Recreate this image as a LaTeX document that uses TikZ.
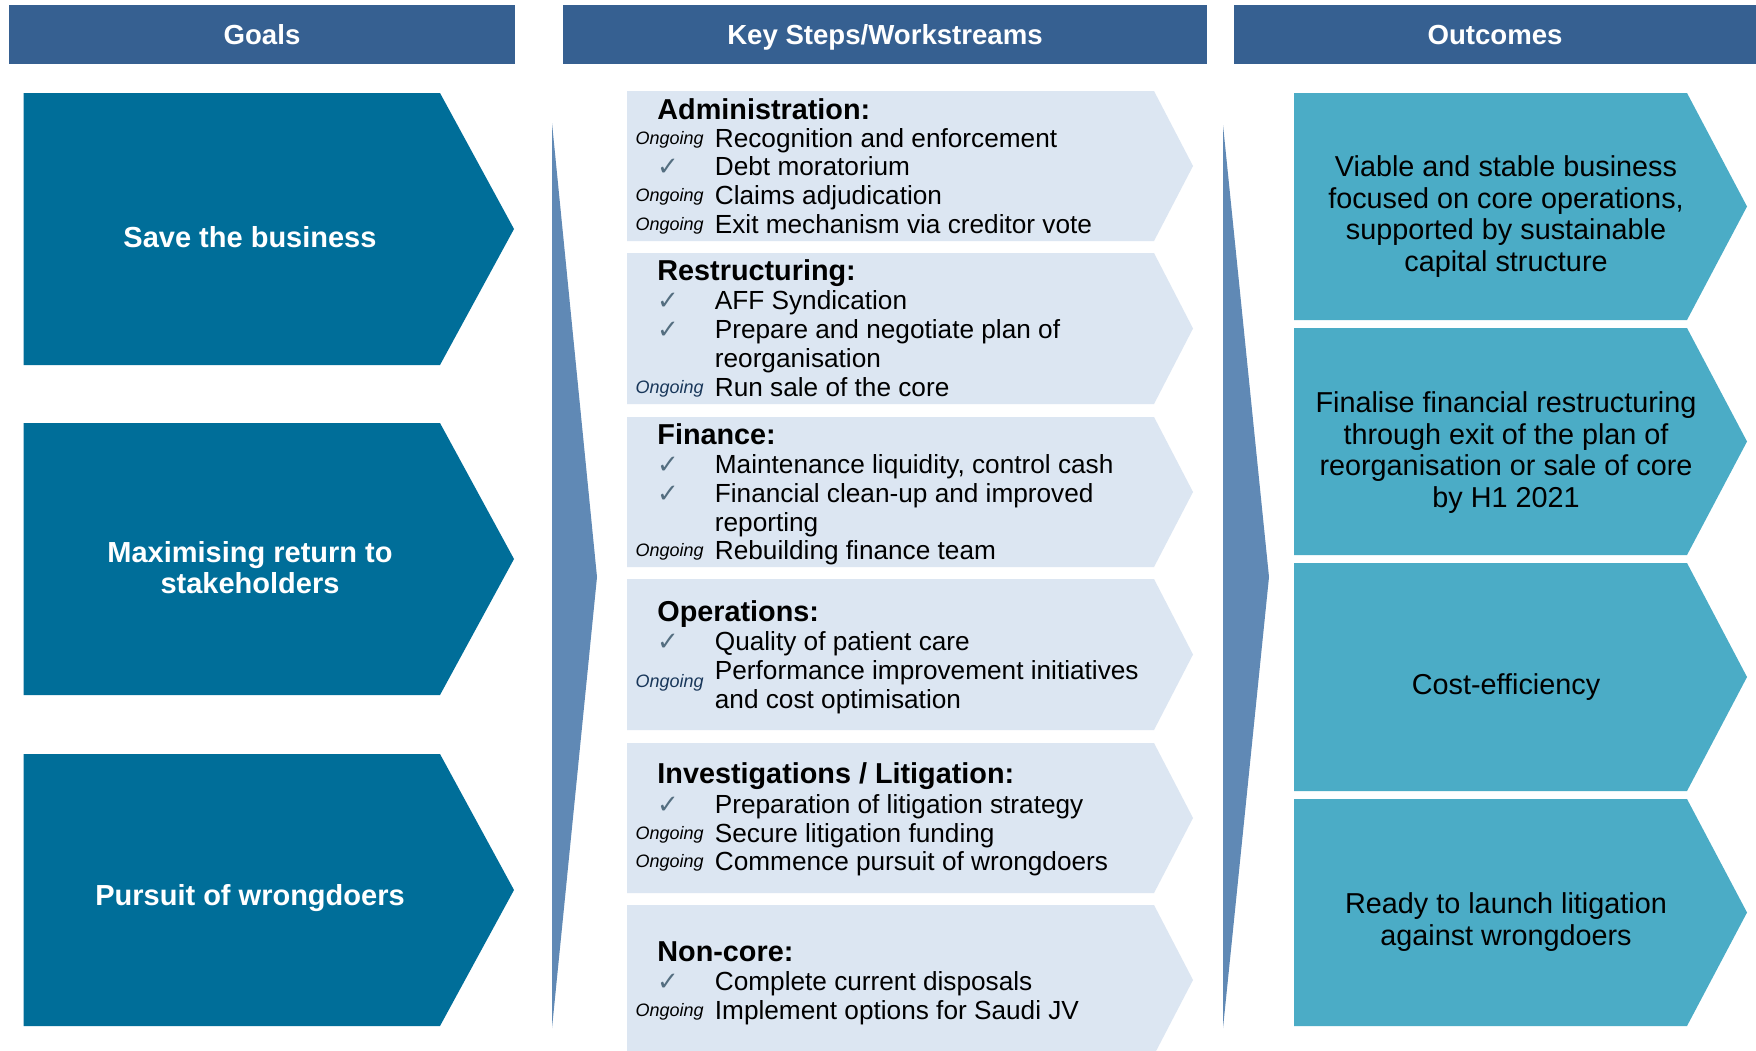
\documentclass[tikz,border=0pt]{standalone}
\usepackage{fontspec}
\setmainfont{Liberation Sans}
\newfontfamily\symfont{DejaVu Sans}

\definecolor{hdrblue}{RGB}{54,96,145}
\definecolor{goalblue}{RGB}{0,110,153}
\definecolor{wedgeblue}{RGB}{96,137,181}
\definecolor{steppale}{RGB}{220,230,242}
\definecolor{outteal}{RGB}{75,172,198}
\definecolor{tickgrey}{RGB}{84,110,128}
\definecolor{navytag}{RGB}{25,55,90}

% chevron: fill, left, top, tip x, bottom, point depth
\newcommand\chevbox[6]{%
  \fill[#1] (#2,#3) -- ({#4-#6},#3) -- (#4,{(#3+#5)/2}) -- ({#4-#6},#5) -- (#2,#5) -- cycle;}

\begin{document}
\begin{tikzpicture}[x=0.5pt,y=-0.5pt,
  hdr/.style={fill=hdrblue,text=white,inner sep=0pt,minimum height=29.75pt,
    text height=9.9pt,text depth=0pt,
    font=\fontsize{13.8}{16}\selectfont\bfseries},
  goaltext/.style={text=white,align=center,inner sep=0pt,
    font=\fontsize{14.5}{15.6}\selectfont\bfseries},
  outtext/.style={text=black,align=center,inner sep=0pt,
    font=\fontsize{14.4}{15.85}\selectfont},
  steptitle/.style={anchor=base west,inner sep=0pt,
    font=\fontsize{14.4}{16}\selectfont\bfseries},
  stepitem/.style={anchor=base west,inner sep=0pt,
    font=\fontsize{13.1}{15}\selectfont},
  ongoing/.style={anchor=base east,inner sep=0pt,yshift=1.5pt,
    font=\fontsize{9}{10}\selectfont\itshape},
  tick/.style={anchor=base,inner sep=0pt,text=tickgrey,
    font=\symfont\fontsize{13}{14}\selectfont},
]
\useasboundingbox (0,0) rectangle (1756,1050);
\fill[white] (0,0) rectangle (1756,1050);

% column headers
\node[hdr,minimum width=253pt] (hgoals) at (262,34.25) {Goals};
\node[hdr,minimum width=322pt] (hsteps) at (885,34.25) {Key Steps/Workstreams};
\node[hdr,minimum width=261pt] (hout) at (1495,34.25) {Outcomes};

% goals
\chevbox{goalblue}{23.5}{93}{514}{365}{74}
\chevbox{goalblue}{23.5}{423}{514}{695}{74}
\chevbox{goalblue}{23.5}{754}{514}{1026}{74}
\node[goaltext] (g1) at (250,237) {Save the business};
\node[goaltext] (g2) at (250,568) {Maximising return to\\stakeholders};
\node[goaltext] (g3) at (250,898) {Pursuit of wrongdoers};

% wedges between columns
\fill[wedgeblue] (552,123) -- (597,577) -- (552,1028) -- cycle;
\fill[wedgeblue] (1223,125) -- (1269,577) -- (1223,1028) -- cycle;

% workstream chevrons
\chevbox{steppale}{627}{91}{1193}{241}{39}
\chevbox{steppale}{627}{253}{1193}{404}{39}
\chevbox{steppale}{627}{417}{1193}{567}{39}
\chevbox{steppale}{627}{579}{1193}{730}{39}
\chevbox{steppale}{627}{743}{1193}{893}{39}
\chevbox{steppale}{627}{905}{1193}{1055}{39}

% Administration
\node[steptitle] (s1) at (657,119) {Administration:};
\node[ongoing] (s1a0) at (704,147) {Ongoing};
\node[stepitem] (s1a) at (714.5,147) {Recognition and enforcement};
\node[tick] (s1b0) at (668,175.5) {✓};
\node[stepitem] (s1b) at (714.5,175.5) {Debt moratorium};
\node[ongoing] (s1c0) at (704,204.5) {Ongoing};
\node[stepitem] (s1c) at (714.5,204.5) {Claims adjudication};
\node[ongoing] (s1d0) at (704,233) {Ongoing};
\node[stepitem] (s1d) at (714.5,233) {Exit mechanism via creditor vote};

% Restructuring
\node[steptitle] (s2) at (657,280) {Restructuring:};
\node[tick] (s2a0) at (668,309) {✓};
\node[stepitem] (s2a) at (714.5,309) {AFF Syndication};
\node[tick] (s2b0) at (668,338) {✓};
\node[stepitem] (s2b) at (714.5,338) {Prepare and negotiate plan of};
\node[stepitem] (s2b2) at (714.5,367) {reorganisation};
\node[ongoing,text=navytag] (s2c0) at (704,396) {Ongoing};
\node[stepitem] (s2c) at (714.5,396) {Run sale of the core};

% Finance
\node[steptitle] (s3) at (657,444) {Finance:};
\node[tick] (s3a0) at (668,473) {✓};
\node[stepitem] (s3a) at (714.5,473) {Maintenance liquidity, control cash};
\node[tick] (s3b0) at (668,502) {✓};
\node[stepitem] (s3b) at (714.5,502) {Financial clean-up and improved};
\node[stepitem] (s3b2) at (714.5,531) {reporting};
\node[ongoing] (s3c0) at (704,559) {Ongoing};
\node[stepitem] (s3c) at (714.5,559) {Rebuilding finance team};

% Operations
\node[steptitle] (s4) at (657,621) {Operations:};
\node[tick] (s4a0) at (668,650) {✓};
\node[stepitem] (s4a) at (714.5,650) {Quality of patient care};
\node[ongoing,text=navytag] (s4b0) at (704,690) {Ongoing};
\node[stepitem] (s4b) at (714.5,679) {Performance improvement initiatives};
\node[stepitem] (s4b2) at (714.5,708) {and cost optimisation};

% Investigations / Litigation
\node[steptitle] (s5) at (657,783) {Investigations / Litigation:};
\node[tick] (s5a0) at (668,813) {✓};
\node[stepitem] (s5a) at (714.5,813) {Preparation of litigation strategy};
\node[ongoing] (s5b0) at (704,842) {Ongoing};
\node[stepitem] (s5b) at (714.5,842) {Secure litigation funding};
\node[ongoing] (s5c0) at (704,870) {Ongoing};
\node[stepitem] (s5c) at (714.5,870) {Commence pursuit of wrongdoers};

% Non-core
\node[steptitle] (s6) at (657,961) {Non-core:};
\node[tick] (s6a0) at (668,990) {✓};
\node[stepitem] (s6a) at (714.5,990) {Complete current disposals};
\node[ongoing] (s6b0) at (704,1019) {Ongoing};
\node[stepitem] (s6b) at (714.5,1019) {Implement options for Saudi JV};

% outcomes
\chevbox{outteal}{1294}{93}{1747}{320}{60}
\chevbox{outteal}{1294}{328}{1747}{555}{60}
\chevbox{outteal}{1294}{563}{1747}{791}{60}
\chevbox{outteal}{1294}{799}{1747}{1026}{60}
\node[outtext] (o1) at (1506,216.5) {Viable and stable business\\focused on core operations,\\supported by sustainable\\capital structure};
\node[outtext] (o2) at (1506,452.5) {Finalise financial restructuring\\through exit of the plan of\\reorganisation or sale of core\\by H1 2021};
\node[outtext] (o3) at (1506,687.5) {Cost-efficiency};
\node[outtext] (o4) at (1506,922) {Ready to launch litigation\\against wrongdoers};
\end{tikzpicture}
\end{document}
